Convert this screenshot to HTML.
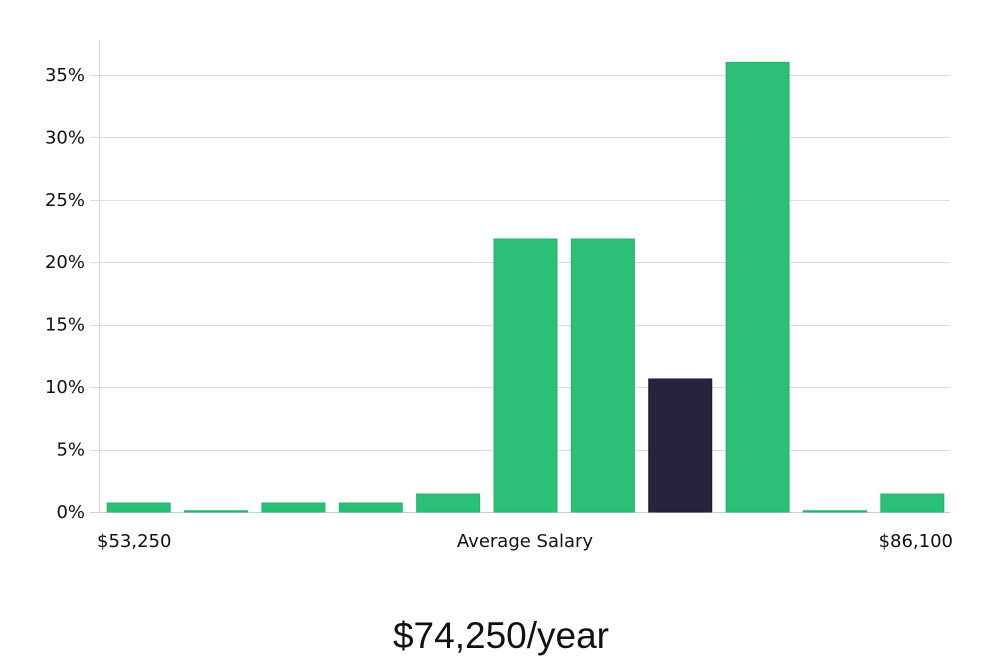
<!DOCTYPE html>
<html><head><meta charset="utf-8"><style>
body{margin:0;background:#fff;width:1000px;height:660px;overflow:hidden}
svg text{font-family:"DejaVu Sans","Liberation Sans",sans-serif;fill:#111}
</style></head><body>
<svg id="chart" width="1000" height="660" xmlns="http://www.w3.org/2000/svg">
<g id="grid"></g>
<g id="yticks"></g>
<line x1="99.5" y1="40" x2="99.5" y2="512" stroke="#d8d8d8"/>
<g id="bars"></g>
<text x="97" y="547" font-size="18">$53,250</text>
<text x="525" y="547" font-size="18" text-anchor="middle">Average Salary</text>
<text x="953" y="547" font-size="18" text-anchor="end">$86,100</text>
<text x="501" y="648" font-size="37" text-anchor="middle" style="font-family:'Liberation Sans',sans-serif;font-weight:300">$74,250/year</text>
</svg>
<script>
const categories=["b1","b2","b3","b4","b5","b6","b7","b8","b9","b10","b11"];
const values=[0.72,0.1,0.72,0.72,1.44,21.86,21.86,10.65,36.0,0.1,1.44];
const highlightIndex=7;
const yTicks=[0,5,10,15,20,25,30,35];
const yTickLabels=["0%","5%","10%","15%","20%","25%","30%","35%"];
const NS="http://www.w3.org/2000/svg";
const x0=99,x1=950,y0=512,pxPerPct=12.49;
const y=v=>y0-v*pxPerPct;
const band=(x1-x0)/categories.length;
const grid=document.getElementById('grid'),yt=document.getElementById('yticks'),bars=document.getElementById('bars');
yTicks.forEach((t,i)=>{
 const l=document.createElementNS(NS,'line');
 
 
 l.setAttribute('x1',90);l.setAttribute('x2',x1);
 l.setAttribute('y1',Math.round(y(t))+0.5);l.setAttribute('y2',Math.round(y(t))+0.5);
 l.setAttribute('stroke',t===0?'#cfcfcf':'#dcdcdc');
 grid.appendChild(l);
 const tx=document.createElementNS(NS,'text');
 
 
 tx.setAttribute('x',85);tx.setAttribute('y',y(t)+6);
 tx.setAttribute('text-anchor','end');tx.setAttribute('font-size','18');
 tx.textContent=yTickLabels[i];
 yt.appendChild(tx);
});
values.forEach((v,i)=>{
 const r=document.createElementNS(NS,'rect');
 
 
 const bw=63;
 r.setAttribute('x',x0+i*band+(band-bw)/2+1);
 r.setAttribute('width',bw);
 r.setAttribute('y',y(v));
 r.setAttribute('height',Math.max(1,v*pxPerPct));
 r.setAttribute('fill',i===highlightIndex?'#27233f':'#2bbf77');
 r.setAttribute('stroke',i===highlightIndex?'#1d1a33':'#22b46c');
 r.setAttribute('stroke-width','1');
 bars.appendChild(r);
});
</script>
</body></html>
